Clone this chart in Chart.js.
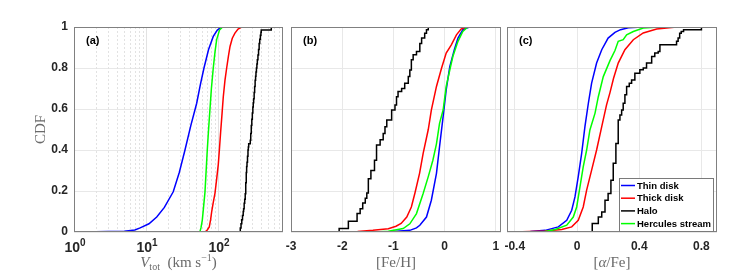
<!DOCTYPE html>
<html>
<head>
<meta charset="utf-8">
<script src="https://cdn.jsdelivr.net/npm/chart.js@4.4.1/dist/chart.umd.min.js"></script>
<style>
  body { margin: 0; background: #fff; }
  #wrap { position: relative; width: 747px; height: 273px; }
  #wrap canvas { position: absolute; left: 0; top: 0; }
</style>
</head>
<body>
<div id="wrap">
  <canvas id="chartA" width="747" height="273"></canvas>
  <canvas id="chartB" width="747" height="273"></canvas>
  <canvas id="chartC" width="747" height="273"></canvas>
</div>
<script>
// legend order
const seriesNames = ['Thin disk', 'Thick disk', 'Halo', 'Hercules stream'];
const seriesColors = ['#0000ff', '#ff0000', '#000000', '#00ff00'];

const cdfTicks = [0, 0.2, 0.4, 0.6, 0.8, 1];
const vtotTicks = [1, 10, 100];
const fehTicks = [-3, -2, -1, 0, 1];
const afeTicks = [-0.4, 0, 0.4, 0.8];

// (a) V_tot, km/s
const vtotThinX = [1.28, 2, 3, 5, 7, 8.3, 11, 14.1, 18, 23.9, 29, 34.8, 42, 50.6, 57, 63.9, 74, 86, 98, 112];
const vtotThinY = [0, 0.001, 0.002, 0.004, 0.01, 0.02, 0.04, 0.073, 0.12, 0.196, 0.29, 0.40, 0.52, 0.628, 0.72, 0.80, 0.89, 0.954, 0.985, 1.0];
const vtotThickX = [66, 71, 75.7, 79, 81.8, 86, 90.9, 96, 101, 105, 109, 114, 118.5, 125, 132, 140, 147, 158, 172, 190, 213, 278];
const vtotThickY = [0, 0.01, 0.025, 0.06, 0.10, 0.145, 0.19, 0.26, 0.33, 0.41, 0.49, 0.58, 0.66, 0.74, 0.80, 0.86, 0.905, 0.945, 0.97, 0.99, 1.0, 1.0];
const vtotHaloX = [204, 204, 209, 214, 219, 224, 227, 231, 235, 239, 243, 247, 250, 253, 257, 261, 264, 267, 281, 285, 290, 295, 300, 305, 309, 313, 318, 323, 328, 333, 337, 342, 347, 352, 359, 366, 373, 380, 388, 395, 399, 550];
const vtotHaloY = [0, 0.02, 0.04, 0.06, 0.08, 0.10, 0.113, 0.14, 0.16, 0.186, 0.24, 0.29, 0.32, 0.34, 0.37, 0.40, 0.415, 0.43, 0.447, 0.48, 0.52, 0.55, 0.58, 0.61, 0.63, 0.65, 0.68, 0.71, 0.74, 0.76, 0.78, 0.80, 0.82, 0.84, 0.863, 0.89, 0.92, 0.94, 0.96, 0.975, 0.985, 1.0];
const vtotHercX = [56, 58, 60.5, 63, 66, 71, 74, 77.4, 81, 86, 91, 96, 105, 116];
const vtotHercY = [0, 0.02, 0.057, 0.12, 0.196, 0.40, 0.50, 0.60, 0.70, 0.80, 0.88, 0.94, 0.985, 1.0];

// (b) [Fe/H]
const fehThinX = [-2.82, -2.0, -1.5, -1.0, -0.68, -0.55, -0.485, -0.355, -0.26, -0.16, -0.10, -0.03, 0.03, 0.10, 0.19, 0.26, 0.355, 0.485, 1.1];
const fehThinY = [0, 0, 0.001, 0.003, 0.008, 0.02, 0.033, 0.073, 0.155, 0.286, 0.416, 0.563, 0.693, 0.807, 0.89, 0.946, 0.987, 1.0, 1.0];
const fehThickX = [-2.1, -1.7, -1.4, -1.1, -0.95, -0.85, -0.74, -0.65, -0.58, -0.49, -0.42, -0.32, -0.26, -0.16, -0.06, 0.03, 0.13, 0.23, 0.32, 0.42, 0.5];
const fehThickY = [0, 0.003, 0.008, 0.016, 0.028, 0.042, 0.073, 0.122, 0.19, 0.286, 0.384, 0.5, 0.595, 0.71, 0.80, 0.873, 0.913, 0.962, 0.99, 1.0, 1.0];
const fehHaloX = [-2.06, -2.06, -1.88, -1.71, -1.65, -1.60, -1.55, -1.52, -1.49, -1.44, -1.37, -1.33, -1.26, -1.20, -1.165, -1.13, -1.035, -0.97, -0.94, -0.91, -0.84, -0.78, -0.71, -0.68, -0.65, -0.615, -0.55, -0.485, -0.45, -0.39, -0.355, -0.32];
const fehHaloY = [0, 0.017, 0.052, 0.09, 0.114, 0.142, 0.165, 0.19, 0.26, 0.30, 0.35, 0.424, 0.45, 0.48, 0.514, 0.546, 0.595, 0.62, 0.66, 0.685, 0.70, 0.726, 0.758, 0.79, 0.84, 0.865, 0.88, 0.92, 0.946, 0.97, 0.987, 1.0];
const fehHercX = [-1.35, -1.1, -0.81, -0.68, -0.55, -0.42, -0.32, -0.23, -0.16, -0.10, -0.03, 0.03, 0.10, 0.16, 0.26, 0.355, 0.45];
const fehHercY = [0, 0.004, 0.017, 0.04, 0.09, 0.188, 0.27, 0.35, 0.43, 0.53, 0.595, 0.71, 0.79, 0.856, 0.93, 0.978, 1.0];

// (c) [alpha/Fe]
const afeThinX = [-0.40, -0.3, -0.205, -0.12, -0.066, -0.034, -0.013, 0.008, 0.03, 0.051, 0.073, 0.094, 0.126, 0.159, 0.2, 0.244, 0.28, 0.33, 0.42];
const afeThinY = [0, 0.002, 0.008, 0.025, 0.057, 0.106, 0.171, 0.27, 0.384, 0.514, 0.628, 0.726, 0.824, 0.889, 0.946, 0.974, 0.987, 0.996, 1.0];
const afeThickX = [-0.40, -0.205, -0.098, -0.034, 0.008, 0.04, 0.062, 0.094, 0.126, 0.159, 0.19, 0.212, 0.235, 0.265, 0.308, 0.362, 0.426, 0.512, 0.64, 0.8];
const afeThickY = [0, 0.005, 0.012, 0.025, 0.057, 0.122, 0.204, 0.302, 0.40, 0.514, 0.62, 0.68, 0.75, 0.824, 0.889, 0.938, 0.971, 0.99, 1.0, 1.0];
const afeHaloX = [0.098, 0.098, 0.137, 0.159, 0.18, 0.20, 0.218, 0.233, 0.25, 0.265, 0.276, 0.287, 0.297, 0.308, 0.319, 0.336, 0.351, 0.372, 0.404, 0.426, 0.447, 0.48, 0.50, 0.522, 0.533, 0.64, 0.65, 0.66, 0.67, 0.685, 0.80];
const afeHaloY = [0, 0.041, 0.073, 0.098, 0.155, 0.188, 0.253, 0.335, 0.432, 0.546, 0.571, 0.595, 0.628, 0.669, 0.71, 0.726, 0.742, 0.775, 0.791, 0.80, 0.824, 0.856, 0.873, 0.88, 0.913, 0.93, 0.946, 0.97, 0.978, 0.987, 1.0];
const afeHercX = [-0.22, -0.14, -0.066, -0.024, -0.002, 0.019, 0.04, 0.062, 0.083, 0.116, 0.137, 0.169, 0.212, 0.244, 0.265, 0.297, 0.319, 0.362, 0.426, 0.53, 0.8];
const afeHercY = [0, 0.012, 0.033, 0.073, 0.122, 0.22, 0.318, 0.40, 0.498, 0.58, 0.66, 0.758, 0.836, 0.885, 0.93, 0.938, 0.962, 0.978, 0.995, 1.0, 1.0];

const sansFont = '"Liberation Sans", Arial, sans-serif';
const serifFont = '"Liberation Serif", "Times New Roman", serif';
const tickColor = '#262626';
const gridColor = '#e8e8e8';

function pts(xs, ys) {
  return xs.map((x, i) => ({ x: x, y: ys[i] }));
}

function lineSet(idx, xs, ys, stepped) {
  return {
    label: seriesNames[idx],
    data: pts(xs, ys),
    borderColor: seriesColors[idx],
    borderWidth: 1.5,
    pointRadius: 0,
    fill: false,
    tension: 0,
    stepped: stepped ? 'before' : false
  };
}

// draws a row of text pieces centred on cx
function drawRich(ctx, parts, cx, baseY) {
  let total = 0;
  parts.forEach(p => { ctx.font = p.font; p.w = ctx.measureText(p.t).width; total += p.w; });
  let x = cx - total / 2;
  ctx.textAlign = 'left';
  ctx.textBaseline = 'alphabetic';
  parts.forEach(p => {
    ctx.font = p.font;
    ctx.fillText(p.t, x, baseY + (p.dy || 0));
    x += p.w;
  });
}

const panelDeco = {
  id: 'panelDeco',
  beforeDatasetsDraw(chart, args, o) {
    if (!o.logGrid) return;
    const ctx = chart.ctx, a = chart.chartArea, sx = chart.scales.x;
    ctx.save();
    ctx.lineWidth = 1;
    for (let k = 0; k < 3; k++) {
      for (let m = 1; m < 10; m++) {
        const v = m * Math.pow(10, k);
        if (v <= 1 || v >= 800) continue;
        const px = Math.round(sx.getPixelForValue(v)) + 0.5;
        ctx.strokeStyle = '#e2e2e2';
        ctx.setLineDash(m === 1 ? [] : [2, 2]);
        ctx.beginPath();
        ctx.moveTo(px, a.top);
        ctx.lineTo(px, a.bottom);
        ctx.stroke();
      }
    }
    ctx.restore();
  },
  afterDraw(chart, args, o) {
    const ctx = chart.ctx, a = chart.chartArea;
    ctx.save();
    ctx.strokeStyle = '#808080';
    ctx.lineWidth = 1;
    ctx.strokeRect(a.left + 0.5, a.top + 0.5, a.right - a.left - 1, a.bottom - a.top - 1);

    ctx.fillStyle = '#000';
    ctx.font = 'bold 11px ' + sansFont;
    ctx.textAlign = 'left';
    ctx.textBaseline = 'middle';
    ctx.fillText(o.letter, a.left + 12, a.top + 14);

    if (o.logLabels) {
      const sx = chart.scales.x;
      ctx.fillStyle = tickColor;
      vtotTicks.forEach(v => {
        const exp = Math.round(Math.log10(v));
        drawRich(ctx, [
          { t: '10', font: 'bold 14px ' + sansFont },
          { t: String(exp), font: 'bold 10px ' + sansFont, dy: -6 }
        ], sx.getPixelForValue(v) + 1, 252);
      });
    }

    ctx.fillStyle = '#6a6a6a';
    if (o.yTitle) {
      ctx.save();
      ctx.translate(41, (a.top + a.bottom) / 2);
      ctx.rotate(-Math.PI / 2);
      ctx.font = '15px ' + serifFont;
      ctx.textAlign = 'center';
      ctx.textBaseline = 'middle';
      ctx.fillText(o.yTitle, 0, 0);
      ctx.restore();
    }
    drawRich(ctx, o.xTitle, (a.left + a.right) / 2, 267);

    if (o.legend) {
      const lx = 619, ly = 178, lw = 95, lh = 54;
      ctx.fillStyle = '#fff';
      ctx.fillRect(lx, ly, lw, lh);
      ctx.strokeStyle = '#7a7a7a';
      ctx.strokeRect(lx + 0.5, ly + 0.5, lw - 1, lh - 1);
      ctx.font = 'bold 9.5px ' + sansFont;
      ctx.textAlign = 'left';
      ctx.textBaseline = 'middle';
      seriesNames.forEach((name, i) => {
        const y = ly + 7.5 + i * 12.7;
        ctx.strokeStyle = seriesColors[i];
        ctx.lineWidth = 1.5;
        ctx.beginPath();
        ctx.moveTo(lx + 2, y);
        ctx.lineTo(lx + 16, y);
        ctx.stroke();
        ctx.fillStyle = '#000';
        ctx.fillText(name, lx + 18, y + 0.5);
      });
    }
    ctx.restore();
  }
};

function makePanel(id, pad, xScale, datasets, deco) {
  const yWidth = deco.yTitle ? 40 : 0;
  pad.left -= yWidth;
  return new Chart(document.getElementById(id), {
    type: 'line',
    data: { datasets: datasets },
    options: {
      responsive: false,
      animation: false,
      devicePixelRatio: 1,
      events: [],
      layout: { padding: pad },
      plugins: { legend: { display: false }, tooltip: { enabled: false }, panelDeco: deco },
      scales: {
        x: xScale,
        y: {
          type: 'linear', min: 0, max: 1,
          afterFit: s => { s.width = yWidth; },
          afterBuildTicks: s => { s.ticks = cdfTicks.map(v => ({ value: v })); },
          grid: { color: gridColor, drawTicks: false },
          border: { display: false },
          ticks: {
            display: !!deco.yTitle, padding: 6, color: tickColor,
            callback: v => String(v),
            font: { family: sansFont, size: 12, weight: 'bold' }
          }
        }
      }
    },
    plugins: [panelDeco]
  });
}

function linearX(min, max, tickList) {
  return {
    type: 'linear', min: min, max: max,
    afterFit: s => { s.height = 41; },
    afterBuildTicks: s => { s.ticks = tickList.map(v => ({ value: v })); },
    grid: { color: gridColor, drawTicks: false },
    border: { display: false },
    ticks: {
      padding: 7, color: tickColor,
      callback: v => String(v),
      font: { family: sansFont, size: 12, weight: 'bold' }
    }
  };
}

// panel (a)
makePanel('chartA', { left: 74, right: 747 - 283, top: 27, bottom: 41 },
  { type: 'logarithmic', min: 1, max: 800, display: false },
  [
    lineSet(3, vtotHercX, vtotHercY),
    lineSet(2, vtotHaloX, vtotHaloY, true),
    lineSet(1, vtotThickX, vtotThickY),
    lineSet(0, vtotThinX, vtotThinY)
  ],
  {
    letter: '(a)', logGrid: true, logLabels: true, yTitle: 'CDF',
    xTitle: [
      { t: 'V', font: 'italic 15px ' + serifFont },
      { t: 'tot', font: '10px ' + serifFont, dy: 3 },
      { t: '  (km s', font: '15px ' + serifFont },
      { t: '\u22121', font: '10px ' + serifFont, dy: -6 },
      { t: ')', font: '15px ' + serifFont }
    ]
  });

// panel (b)
makePanel('chartB', { left: 291, right: 747 - 501, top: 27, bottom: 0 },
  linearX(-3, 1.1, fehTicks),
  [
    lineSet(3, fehHercX, fehHercY),
    lineSet(2, fehHaloX, fehHaloY, true),
    lineSet(1, fehThickX, fehThickY),
    lineSet(0, fehThinX, fehThinY)
  ],
  {
    letter: '(b)',
    xTitle: [{ t: '[Fe/H]', font: '15px ' + serifFont }]
  });

// panel (c)
makePanel('chartC', { left: 507, right: 747 - 717, top: 27, bottom: 0 },
  linearX(-0.45, 0.9, afeTicks),
  [
    lineSet(3, afeHercX, afeHercY),
    lineSet(2, afeHaloX, afeHaloY, true),
    lineSet(1, afeThickX, afeThickY),
    lineSet(0, afeThinX, afeThinY)
  ],
  {
    letter: '(c)', legend: true,
    xTitle: [
      { t: '[', font: '15px ' + serifFont },
      { t: '\u03b1', font: 'italic 15px ' + serifFont },
      { t: '/Fe]', font: '15px ' + serifFont }
    ]
  });
</script>
</body>
</html>
